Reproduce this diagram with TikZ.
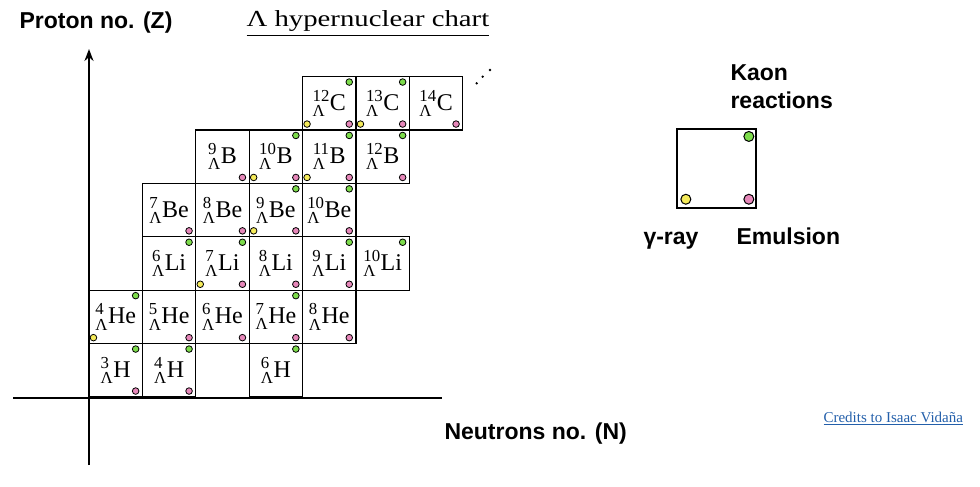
\documentclass[tikz,border=0pt]{standalone}
\usepackage{amsmath}
\usepackage{fontspec}
\setmainfont{Liberation Serif}
\newfontfamily\labelfont{Liberation Sans}
\newfontfamily\titlefont[FakeStretch=1.25]{Liberation Serif}
\usetikzlibrary{arrows.meta}
\usepackage{xcolor}
\definecolor{kaongreen}{RGB}{125,220,75}
\definecolor{gammayellow}{RGB}{245,235,90}
\definecolor{emulpink}{RGB}{230,135,185}
\definecolor{creditblue}{RGB}{35,95,170}

\begin{document}
\begin{tikzpicture}[x=1pt, y=-1pt,
    cell/.style={draw, line width=1.1pt, minimum size=53.4pt, inner sep=0pt, font=\fontsize{24}{28}\selectfont},
    legendbox/.style={draw, line width=1.1pt, minimum size=79pt, inner sep=0pt},
    dot/.style={circle, draw, line width=0.8pt, inner sep=0pt, minimum size=6.6pt},
    bigdot/.style={dot, minimum size=10pt, line width=1pt},
    kaon/.style={fill=kaongreen}, gammaray/.style={fill=gammayellow}, emul/.style={fill=emulpink},
    axislabel/.style={anchor=base west, font=\labelfont\bfseries\fontsize{23}{26}\selectfont}]
  \def\xo{89} \def\yo{397} \def\cw{53.4}
  \useasboundingbox (0,0) rectangle (980,487);
  \coordinate (ybot) at (\xo,465); \coordinate (ytop) at (\xo,49);
  \coordinate (xleft) at (13,398); \coordinate (xright) at (442,398);
  \draw[line width=2pt, -{Stealth[length=12pt, width=9pt]}] (ybot) -- (ytop);
  \draw[line width=2.5pt] (xleft) -- (xright);
  \foreach \el/\Z/\A in {H/1/3, H/1/4, H/1/6, He/2/4, He/2/5, He/2/6, He/2/7, He/2/8,
      Li/3/6, Li/3/7, Li/3/8, Li/3/9, Li/3/10, Be/4/7, Be/4/8, Be/4/9, Be/4/10,
      B/5/9, B/5/10, B/5/11, B/5/12, C/6/12, C/6/13, C/6/14}
    \node[cell] (\el\A) at ({\xo+\cw*(\A-\Z-1.5)}, {\yo-\cw*(\Z-0.5)}) {${}^{\text{\A}}_{\text{Λ}}$\el};
  \foreach \n in {C12, C13, B10, B11, B12, Be9, Be10, Li6, Li7, Li9, Li10, He4, He7, H3, H4, H6}
    \node[dot, kaon] at ([shift={(-7.3,6)}]\n.north east) {};
  \foreach \n in {C12, C13, B10, B11, Be9, Li7, He4}
    \node[dot, gammaray] at ([shift={(5,-6.5)}]\n.south west) {};
  \foreach \n in {C12, C13, C14, B9, B10, B11, B12, Be7, Be8, Be9, Be10, Li7, Li8, Li9,
      He5, He6, He7, He8, H3, H4}
    \node[dot, emul] at ([shift={(-7.3,-6.5)}]\n.south east) {};
  \foreach \p in {(476.7,83.3), (482.7,76.7), (490,70)}
    \fill \p circle (1.3);
  \node[legendbox] (legend) at (716.5,168.5) {};
  \node[bigdot, kaon] at ([shift={(-7.7,8)}]legend.north east) {};
  \node[bigdot, gammaray] at ([shift={(9.4,-9.3)}]legend.south west) {};
  \node[bigdot, emul] at ([shift={(-7.7,-9.3)}]legend.south east) {};
  \node[axislabel] (kaonline) at (727,80.7) {Kaon};
  \node[axislabel] (reactline) at (727,108) {reactions};
  \node[axislabel] (gammalab) at (640,244) {γ-ray};
  \node[axislabel] (emullab) at (733,244) {Emulsion};
  \node[axislabel] (zlabel) at (16,28.3) {Proton no. (Z)};
  \node[axislabel] (nlabel) at (441,439) {Neutrons no. (N)};
  \node[anchor=base west, font=\titlefont\fontsize{23}{26}\selectfont] (title) at (243,27) {\underline{Λ hypernuclear chart}};
  \node[anchor=base west, text=creditblue, font=\fontsize{15}{18}\selectfont] (credits) at (820,422) {\underline{Credits to Isaac Vidaña}};
\end{tikzpicture}
\end{document}
